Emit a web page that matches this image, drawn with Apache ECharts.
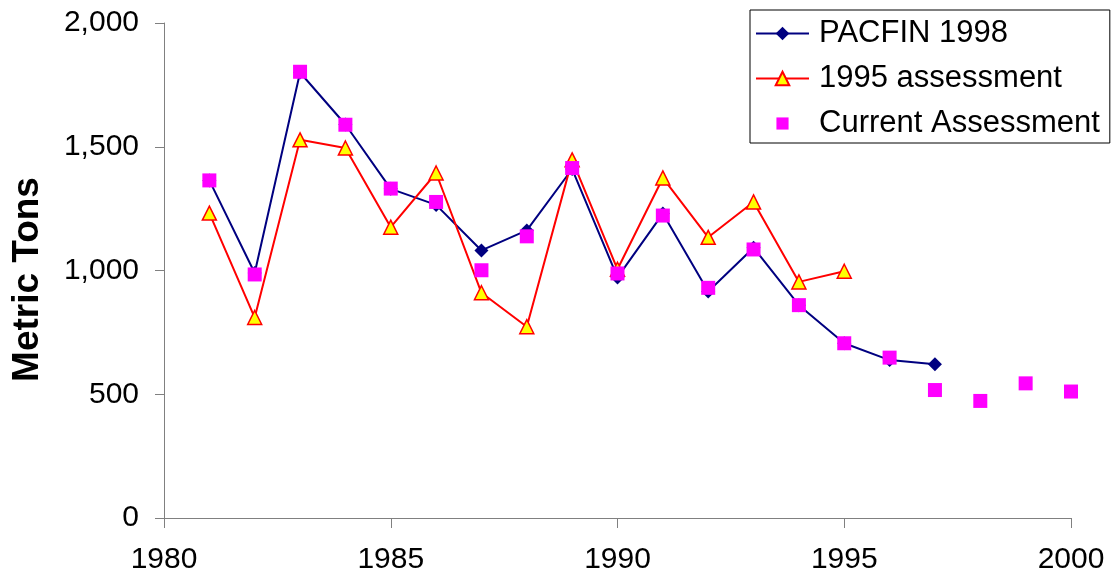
<!DOCTYPE html>
<html>
<head>
<meta charset="utf-8">
<script src="https://cdn.jsdelivr.net/npm/echarts@6/dist/echarts.min.js"></script>
<style>
  html, body { margin: 0; padding: 0; background: #fff; }
  #chart { width: 1115px; height: 582px; }
</style>
</head>
<body>
<div id="chart"></div>
<script>
// years for each series
const yearsAll = [1981, 1982, 1983, 1984, 1985, 1986, 1987, 1988, 1989, 1990,
  1991, 1992, 1993, 1994, 1995, 1996, 1997, 1998, 1999, 2000];
const pacfin1998 = [1364, 990, 1800, 1590, 1330, 1265, 1081, 1162, 1410, 972,
  1230, 915, 1092, 860, 706, 638, 621];
const assessment1995 = [1232, 810, 1528, 1495, 1175, 1394, 910, 773, 1447, 1005,
  1374, 1134, 1277, 954, 997];
const currentAssessment = [1364, 984, 1803, 1589, 1331, 1277, 1001, 1138, 1414, 988,
  1222, 930, 1085, 860, 706, 648, 517, 473, 544, 511];
const seriesNames = ['PACFIN 1998', '1995 assessment', 'Current Assessment'];

// pair each value with its year
const pairs = (vals) => vals.map((v, i) => [yearsAll[i], v]);

const chart = echarts.init(document.getElementById('chart'));
const font = 'Liberation Sans, Arial, sans-serif';

const option = {
  animation: false,
  backgroundColor: '#fff',
  grid: { left: 164, right: 44, top: 23, bottom: 64 },
  legend: {
    orient: 'vertical',
    left: 750,
    top: 10,
    data: [
      { name: seriesNames[0] },
      { name: seriesNames[1] },
      // small square, with some empty room round it so it stays ~13px
      { name: seriesNames[2], icon: 'path://M-2,-2M12,12M0,0h10v10h-10z' }
    ],
    borderColor: '#000',
    borderWidth: 1,
    padding: [8, 10, 4, 5],
    itemGap: 14,
    itemWidth: 53,
    itemHeight: 17,
    textStyle: {
      fontFamily: font, fontSize: 31, lineHeight: 31, color: '#000',
      padding: [0, 0, 0, 5]
    }
  },
  xAxis: {
    type: 'value',
    min: 1980,
    max: 2000,
    interval: 5,
    axisLine: { lineStyle: { color: '#808080', width: 1 } },
    axisTick: { inside: false, length: 10, lineStyle: { color: '#808080' } },
    splitLine: { show: false },
    axisLabel: {
      fontFamily: font, fontSize: 30, color: '#000', margin: 27,
      formatter: (v) => String(v)
    }
  },
  yAxis: {
    type: 'value',
    min: 0,
    max: 2000,
    interval: 500,
    name: 'Metric Tons',
    nameLocation: 'middle',
    nameGap: 118,
    nameTextStyle: {
      fontFamily: font, fontSize: 37, fontWeight: 'bold', color: '#000',
      padding: [0, 18, 0, 0]
    },
    axisLine: { show: true, lineStyle: { color: '#808080', width: 1 } },
    axisTick: { show: true, inside: false, length: 9, lineStyle: { color: '#808080' } },
    splitLine: { show: false },
    axisLabel: {
      fontFamily: font, fontSize: 30, color: '#000', margin: 25,
      formatter: (v) => v.toLocaleString('en-US')
    }
  },
  series: [
    {
      name: seriesNames[0],
      type: 'line',
      data: pairs(pacfin1998),
      symbol: 'diamond',
      symbolSize: 14,
      lineStyle: { color: '#000080', width: 2 },
      itemStyle: { color: '#000080' },
      z: 2
    },
    {
      name: seriesNames[1],
      type: 'line',
      data: pairs(assessment1995),
      symbol: 'triangle',
      symbolSize: 14,
      lineStyle: { color: '#ff0000', width: 2 },
      itemStyle: { color: '#ffff00', borderColor: '#ff0000', borderWidth: 1.5 },
      z: 3
    },
    {
      name: seriesNames[2],
      type: 'scatter',
      data: pairs(currentAssessment),
      symbol: 'rect',
      symbolSize: 14,
      itemStyle: { color: '#ff00ff', opacity: 1 },
      z: 4
    }
  ]
};

chart.setOption(option);
</script>
</body>
</html>
